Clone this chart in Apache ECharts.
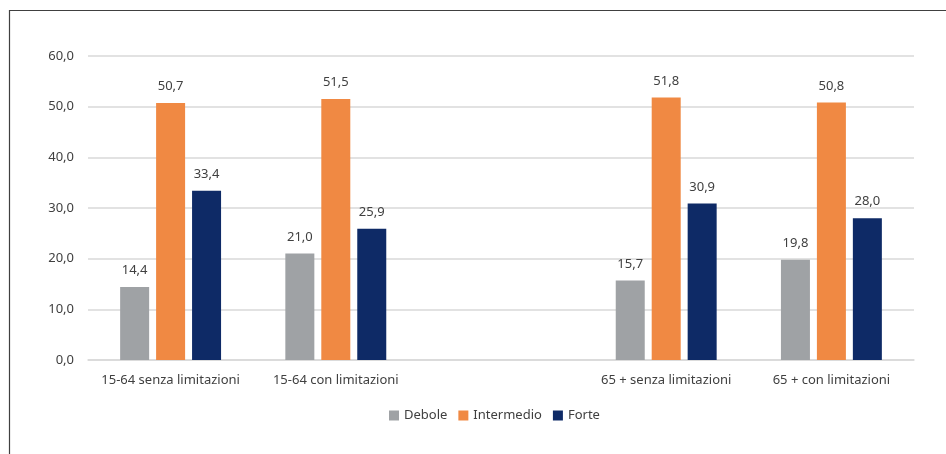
<!DOCTYPE html>
<html>
<head>
<meta charset="utf-8">
<script src="https://cdn.jsdelivr.net/npm/echarts@6/dist/echarts.min.js"></script>
<style>
  html, body { margin: 0; padding: 0; background: #fff; }
  #chart { width: 946px; height: 454px; }
</style>
</head>
<body>
<div id="chart"></div>
<script>
// categorie (la terza è vuota: spazio tra i gruppi)
const categories = ['15-64 senza limitazioni', '15-64 con limitazioni', '', '65 + senza limitazioni', '65 + con limitazioni']
const debole = [14.4, 21.0, null, 15.7, 19.8]
const intermedio = [50.7, 51.5, null, 51.8, 50.8]
const forte = [33.4, 25.9, null, 30.9, 28.0]
const seriesNames = ['Debole', 'Intermedio', 'Forte']
const colors = ['#9FA2A5', '#F08943', '#0E2A66']

const fontFamily = '"Noto Sans", "Open Sans", sans-serif'
const textColor = '#404040'

let myChart = echarts.init(document.getElementById('chart'))

const fmt = v => v.toFixed(1).replace('.', ',')

const makeSeries = (name, data, color) => {
    return {
        name: name,
        type: 'bar',
        data: data,
        barWidth: 29,
        barGap: '24%',
        itemStyle: { color: color },
        label: {
            show: true,
            position: 'top',
            distance: 10,
            color: textColor,
            fontSize: 13,
            fontFamily: fontFamily,
            formatter: p => fmt(p.value)
        }
    }
}

const options = {
    animation: false,
    color: colors,
    grid: {
        left: 88,
        right: 32,
        top: 56,
        bottom: 94,
        containLabel: false
    },
    legend: {
        data: seriesNames,
        bottom: 27,
        left: 384,
        itemWidth: 10,
        itemHeight: 10,
        itemGap: 11,
        icon: 'rect',
        textStyle: { color: textColor, fontSize: 13, fontFamily: fontFamily }
    },
    xAxis: {
        type: 'category',
        data: categories,
        axisLine: { show: true, lineStyle: { color: '#D9D9D9', width: 1.5 } },
        axisTick: { show: false },
        axisLabel: {
            color: textColor,
            fontSize: 13,
            fontFamily: fontFamily,
            margin: 14,
            interval: 0
        }
    },
    yAxis: {
        type: 'value',
        min: 0,
        max: 60,
        interval: 10,
        axisLine: { show: false },
        axisTick: { show: false },
        splitLine: { lineStyle: { color: '#D9D9D9', width: 1.5 } },
        axisLabel: {
            color: textColor,
            fontSize: 13,
            fontFamily: fontFamily,
            margin: 14,
            formatter: v => fmt(v)
        }
    },
    graphic: [
        { type: 'line', shape: { x1: 9, y1: 10.5, x2: 946, y2: 10.5 }, style: { stroke: '#404040', lineWidth: 1.2 } },
        { type: 'line', shape: { x1: 9.5, y1: 10, x2: 9.5, y2: 454 }, style: { stroke: '#404040', lineWidth: 1.2 } }
    ],
    series: [
        makeSeries(seriesNames[0], debole, colors[0]),
        makeSeries(seriesNames[1], intermedio, colors[1]),
        makeSeries(seriesNames[2], forte, colors[2])
    ]
}
myChart.setOption(options)
</script>
</body>
</html>
